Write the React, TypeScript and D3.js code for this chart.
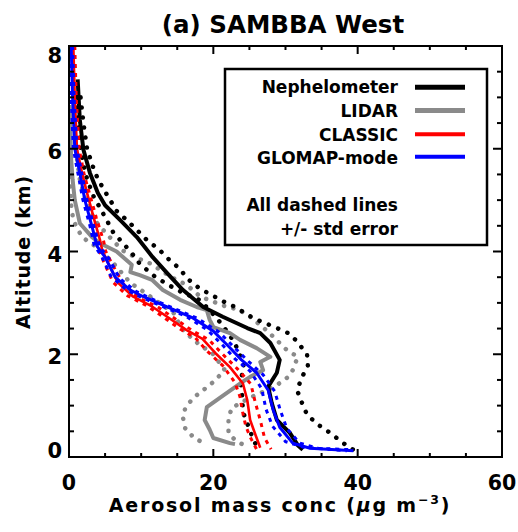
import React from "react";
import * as d3 from "d3";

type P = [number, number]; // [conc (µg m-3), altitude (km)]

const xTicksMajor = [0, 20, 40, 60];
const yTicksMajor = [0, 2, 4, 6, 8];

const nephelometer: P[] = [
  [1.2, 7.35], [1.5, 6.56], [2.0, 5.98], [2.9, 5.53], [4.0, 5.14], [5.0, 4.9],
  [7.1, 4.61], [9.4, 4.28], [11.6, 3.89], [13.6, 3.58], [15.8, 3.25], [18.6, 2.92],
  [21.3, 2.73], [24.7, 2.51], [26.5, 2.41], [27.9, 2.22], [29.2, 1.89], [28.8, 1.64],
  [27.6, 1.37], [28.1, 1.05], [28.8, 0.72], [30.6, 0.47], [31.7, 0.23], [32.4, 0.14],
];
const nephUpper: P[] = [
  [1.6, 7.0], [2.0, 6.5], [2.5, 6.0], [3.6, 5.53], [4.6, 5.26], [6.6, 4.79], [8.0, 4.61],
  [9.4, 4.42], [10.8, 4.22], [12.4, 4.05], [13.8, 3.85], [15.3, 3.67], [16.5, 3.46],
  [18.1, 3.28], [21.5, 3.02], [23.3, 2.9], [24.8, 2.76], [26.7, 2.63], [28.5, 2.53],
  [30.4, 2.41], [31.7, 2.24], [33.0, 1.98], [33.1, 1.77], [32.3, 1.56], [31.6, 1.3],
  [32.3, 1.05], [33.0, 0.82], [34.6, 0.62], [36.2, 0.47], [37.8, 0.29], [39.4, 0.14],
];
const nephLower: P[] = [
  [1.0, 7.0], [1.3, 6.5], [1.6, 6.0], [2.3, 5.5], [3.3, 5.1], [5.0, 4.67], [6.1, 4.38],
  [7.3, 4.19], [8.7, 3.97], [9.8, 3.76], [12.0, 3.5], [15.0, 3.25], [18.2, 3.05],
  [20.5, 2.7], [22.3, 2.37], [23.3, 2.12], [24.2, 1.8], [23.8, 1.45], [24.0, 1.17],
  [24.1, 0.88], [25.3, 0.43], [26.2, 0.14],
];

const lidar: P[] = [
  [0.1, 6.85], [0.2, 6.3], [0.3, 5.8], [0.5, 5.4], [0.8, 5.0], [1.5, 4.55], [3.2, 4.28],
  [4.3, 4.16], [6.6, 4.0], [8.7, 3.74], [8.5, 3.6], [9.8, 3.54], [11.5, 3.45], [13.0, 3.25],
  [15.4, 3.06], [17.7, 2.92], [19.1, 2.86], [19.5, 2.67], [20.0, 2.53], [22.3, 2.41],
  [23.7, 2.28], [26.0, 2.12], [27.9, 1.95], [26.5, 1.85], [26.9, 1.69], [25.1, 1.56],
  [23.7, 1.43], [20.9, 1.15], [19.1, 0.97], [18.8, 0.72], [19.5, 0.53], [20.0, 0.37],
  [22.3, 0.27], [23.0, 0.25],
];
const lidarUpper: P[] = [
  [0.5, 6.9], [0.8, 6.3], [1.1, 5.8], [1.5, 5.4], [2.3, 5.0], [3.6, 4.6], [5.5, 4.3],
  [6.4, 4.17], [7.3, 4.03], [9.0, 3.9], [11.2, 3.77], [14.2, 3.5], [16.3, 3.35],
  [18.2, 3.12], [21.9, 2.92], [23.5, 2.87], [25.1, 2.73], [27.5, 2.45], [30.2, 2.08],
  [31.7, 1.95], [31.0, 1.69], [30.4, 1.56], [28.5, 1.37], [25.0, 1.15], [22.5, 0.95],
  [22.1, 0.72], [22.1, 0.47], [23.0, 0.33], [24.0, 0.25],
];
const lidarLower: P[] = [
  [0.0, 6.2], [0.1, 5.5], [0.3, 4.9], [0.6, 4.6], [1.8, 4.28], [4.0, 4.07], [6.1, 3.78],
  [8.5, 3.39], [10.5, 3.2], [12.5, 3.0], [14.5, 2.8], [15.6, 2.5], [17.5, 2.25],
  [20.0, 2.0], [21.6, 1.69], [20.0, 1.46], [18.6, 1.3], [17.2, 1.15], [16.1, 0.95],
  [15.8, 0.76], [16.1, 0.56], [17.2, 0.39], [18.4, 0.29],
];

const classic: P[] = [
  [0.6, 8.0], [0.8, 7.0], [1.1, 6.0], [1.8, 5.53], [2.5, 5.14], [3.4, 4.67], [4.3, 4.22],
  [4.6, 4.03], [5.4, 3.78], [6.8, 3.39], [8.9, 3.12], [11.5, 2.93], [13.6, 2.73],
  [16.3, 2.47], [18.5, 2.3], [20.3, 2.02], [22.3, 1.75], [24.1, 1.43], [24.7, 1.11],
  [25.1, 0.72], [26.0, 0.37], [26.5, 0.18],
];
const classicUpper: P[] = [
  [0.8, 8.0], [1.0, 7.0], [1.4, 6.0], [2.1, 5.5], [2.9, 5.1], [3.8, 4.65], [4.8, 4.2],
  [5.1, 4.0], [6.0, 3.75], [7.5, 3.38], [9.6, 3.1], [12.3, 2.92], [14.4, 2.72],
  [17.2, 2.45], [19.4, 2.28], [21.3, 2.0], [23.3, 1.72], [25.2, 1.42], [25.8, 1.07],
  [26.5, 0.72], [27.1, 0.37], [28.0, 0.15],
];
const classicLower: P[] = [
  [0.4, 8.0], [0.6, 7.0], [0.9, 6.0], [1.5, 5.55], [2.1, 5.15], [3.0, 4.7], [3.8, 4.25],
  [4.1, 4.05], [4.8, 3.8], [6.1, 3.4], [8.1, 3.14], [10.7, 2.95], [12.8, 2.75],
  [15.4, 2.49], [17.5, 2.32], [19.3, 2.04], [21.3, 1.78], [23.0, 1.45], [23.7, 1.17],
  [24.0, 0.91], [24.5, 0.6], [25.1, 0.39], [26.0, 0.15],
];

const glomap: P[] = [
  [0.3, 8.0], [0.5, 7.0], [0.8, 6.0], [1.5, 5.53], [2.2, 5.0], [3.2, 4.48], [3.9, 4.1],
  [5.0, 3.89], [6.4, 3.5], [8.5, 3.25], [10.3, 3.12], [13.6, 2.92], [17.0, 2.72],
  [20.0, 2.45], [22.2, 2.14], [23.9, 1.89], [26.0, 1.64], [27.6, 1.3], [28.3, 0.91],
  [29.2, 0.58], [31.0, 0.27], [33.4, 0.17], [39.4, 0.12],
];
const glomapUpper: P[] = [
  [0.5, 8.0], [0.7, 7.0], [1.1, 6.0], [1.8, 5.5], [2.5, 5.0], [3.5, 4.46], [4.3, 4.08],
  [5.5, 3.87], [7.0, 3.48], [9.2, 3.23], [11.1, 3.1], [14.4, 2.9], [17.8, 2.7],
  [20.8, 2.43], [23.0, 2.12], [24.8, 1.87], [26.9, 1.6], [28.5, 1.28], [29.3, 0.9],
  [30.2, 0.55], [32.0, 0.27], [34.5, 0.17], [39.4, 0.14],
];
const glomapLower: P[] = [
  [0.2, 8.0], [0.3, 7.0], [0.6, 6.0], [1.2, 5.55], [1.9, 5.02], [2.9, 4.5], [3.5, 4.12],
  [4.5, 3.91], [5.8, 3.52], [7.8, 3.27], [9.5, 3.14], [12.8, 2.94], [16.2, 2.74],
  [19.2, 2.47], [21.4, 2.16], [23.0, 1.91], [25.1, 1.67], [26.7, 1.33], [27.3, 0.93],
  [28.2, 0.6], [30.0, 0.3], [32.5, 0.19], [38.5, 0.12],
];

const legendLabels = ["Nephelometer", "LIDAR", "CLASSIC", "GLOMAP-mode"];
const legendColors = ["#000000", "#8a8a8a", "#ff0000", "#0000ff"];

const FONT = "'DejaVu Sans', sans-serif";

export default function App() {
  const W = 518, H = 532;
  const x = d3.scaleLinear().domain([0, 60]).range([69, 502]);
  const y = d3.scaleLinear().domain([0, 8]).range([457, 46]);
  const line = d3.line<P>().x((d) => x(d[0])).y((d) => y(d[1]));
  const [x0, x1] = x.range();
  const [y0, y1] = y.range();

  const xMinor = d3.range(0, 60.001, 5);
  const yMinor = d3.range(0, 8.001, 0.5);

  const solid = (d: P[], color: string, w: number) => (
    <path d={line(d) || ""} fill="none" stroke={color} strokeWidth={w} strokeLinejoin="round" />
  );
  const dotted = (d: P[], color: string, w: number, dash: string, cap: "round" | "butt" | "square") => (
    <path d={line(d) || ""} fill="none" stroke={color} strokeWidth={w} strokeDasharray={dash} strokeLinecap={cap} />
  );

  return (
    <svg width={W} height={H} style={{ position: "fixed", left: 0, top: 0, background: "#fff" }} fontFamily={FONT} fontWeight="bold">
      <rect x={0} y={0} width={W} height={H} fill="#fff" />
      <defs>
        <clipPath id="plot">
          <rect x={x0} y={y1} width={x1 - x0} height={y0 - y1} />
        </clipPath>
      </defs>

      <text x={283} y={33} fontSize={24.5} textAnchor="middle">(a) SAMBBA West</text>

      <g clipPath="url(#plot)">
        {dotted(lidarUpper, "#8a8a8a", 4.5, "0.1 9.5", "round")}
        {dotted(lidarLower, "#8a8a8a", 4.5, "0.1 9.5", "round")}
        {dotted(nephUpper, "#000", 4.5, "0.1 10", "round")}
        {dotted(nephLower, "#000", 4.5, "0.1 10", "round")}
        {solid(lidar, "#8a8a8a", 4)}
        {solid(nephelometer, "#000", 4)}
        {dotted(classicUpper, "#ff0000", 3, "4 5", "butt")}
        {dotted(classicLower, "#ff0000", 3, "4 5", "butt")}
        {solid(classic, "#ff0000", 2.6)}
        {dotted(glomapUpper, "#0000ff", 3, "4 5", "butt")}
        {dotted(glomapLower, "#0000ff", 3, "4 5", "butt")}
        {solid(glomap, "#0000ff", 3)}
      </g>

      {/* frame */}
      <rect x={x0} y={y1} width={x1 - x0} height={y0 - y1} fill="none" stroke="#000" strokeWidth={2} />

      {xMinor.map((t) => {
        const major = xTicksMajor.includes(t);
        const L = major ? 8 : 4;
        return (
          <g key={"xt" + t}>
            <line x1={x(t)} x2={x(t)} y1={y0} y2={y0 - L} stroke="#000" strokeWidth={2} />
            <line x1={x(t)} x2={x(t)} y1={y1} y2={y1 + L} stroke="#000" strokeWidth={2} />
          </g>
        );
      })}
      {yMinor.map((t) => {
        const major = yTicksMajor.includes(t);
        const L = major ? 9 : 5;
        return (
          <g key={"yt" + t}>
            <line x1={x0} x2={x0 + L} y1={y(t)} y2={y(t)} stroke="#000" strokeWidth={2} />
            <line x1={x1} x2={x1 - L} y1={y(t)} y2={y(t)} stroke="#000" strokeWidth={2} />
          </g>
        );
      })}

      {xTicksMajor.map((t) => (
        <text key={"xl" + t} x={x(t)} y={490} fontSize={20.5} textAnchor="middle">{t}</text>
      ))}
      {yTicksMajor.map((t) => (
        <text key={"yl" + t} x={62} y={Math.min(458, Math.max(63, y(t) + 10))} fontSize={21} textAnchor="end">{t}</text>
      ))}

      <text x={280} y={512} fontSize={19} textAnchor="middle" letterSpacing={1.8}>
        Aerosol mass conc (<tspan fontStyle="italic">μ</tspan>g m<tspan fontSize={12.5} dy={-8}>−3</tspan><tspan dy={8}>)</tspan>
      </text>
      <text transform={`translate(30,252) rotate(-90)`} fontSize={19} textAnchor="middle" letterSpacing={0.9}>
        Altitude (km)
      </text>

      {/* legend */}
      <rect x={225} y={69} width={262} height={176} fill="#fff" stroke="#000" strokeWidth={2.5} />
      {legendLabels.map((lab, i) => {
        const base = [93, 117, 141, 164][i];
        const ly = [87.3, 110.5, 134.3, 156.7][i];
        return (
          <g key={lab}>
            <text x={398} y={base} fontSize={17} textAnchor="end">{lab}</text>
            <line x1={415} x2={465} y1={ly} y2={ly} stroke={legendColors[i]} strokeWidth={i < 2 ? 5 : 4} />
          </g>
        );
      })}
      <text x={398} y={211} fontSize={17} textAnchor="end">All dashed lines</text>
      <text x={398} y={235} fontSize={17} textAnchor="end">+/- std error</text>
    </svg>
  );
}
